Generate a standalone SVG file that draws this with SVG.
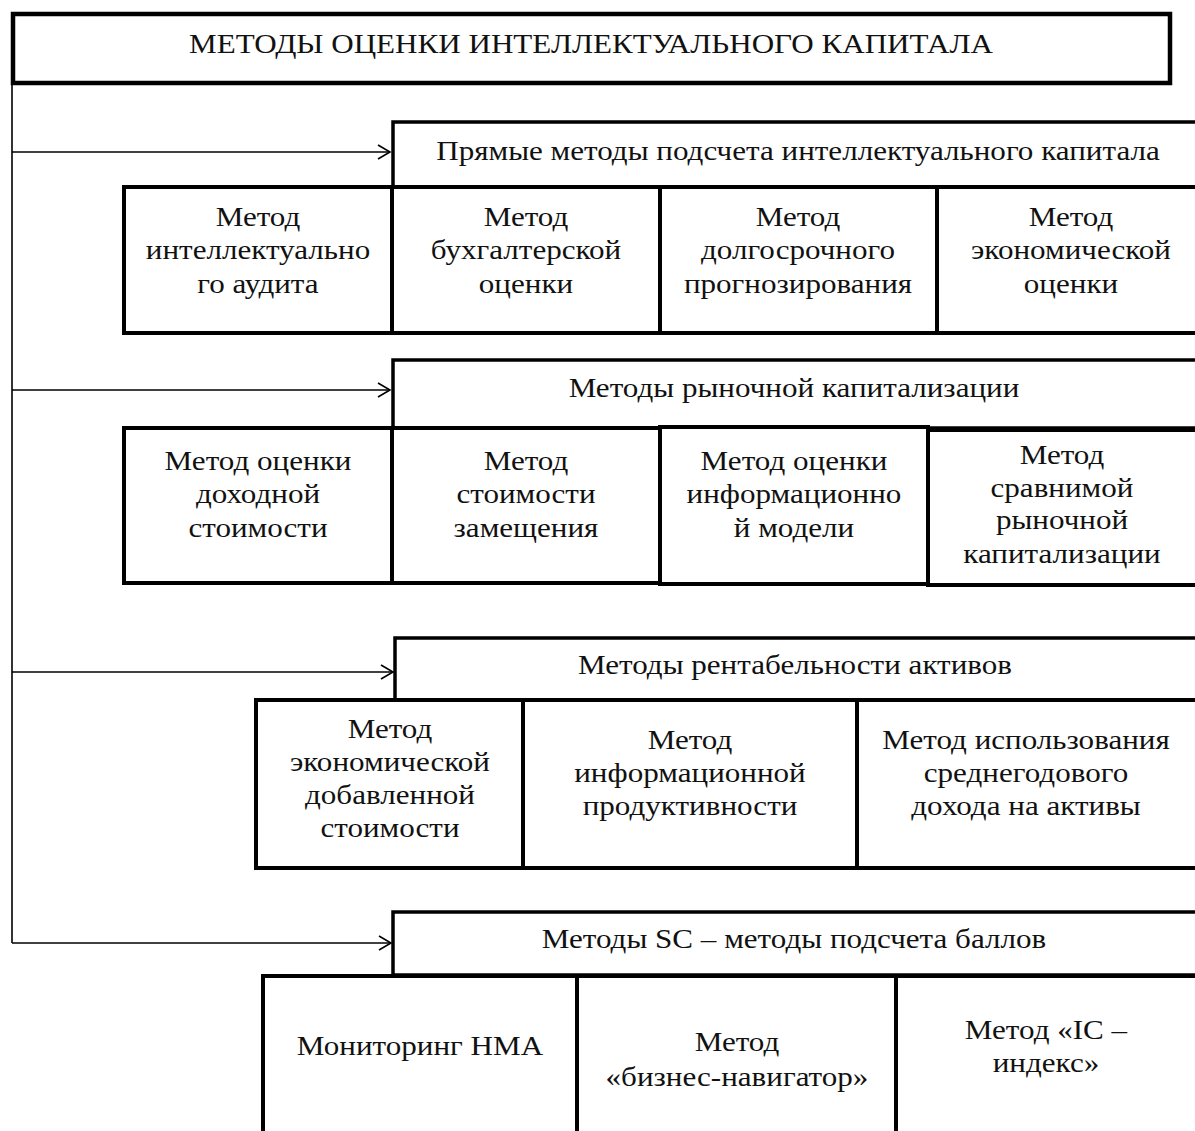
<svg xmlns="http://www.w3.org/2000/svg" width="1195" height="1131" viewBox="0 0 1195 1131">
<defs>
<marker id="arr" markerWidth="16" markerHeight="16" refX="14" refY="8" orient="auto" markerUnits="userSpaceOnUse">
<path d="M2,1 L14,8 L2,15" fill="none" stroke="#000" stroke-width="1.6"/>
</marker>
</defs>
<style>
rect{fill:#fff;stroke:#000;stroke-width:4}
.hdr{stroke-width:3.5}
text{font-family:"Liberation Serif","Times New Roman",serif;font-size:28px;fill:#111;text-anchor:middle}
.conn{fill:none;stroke:#000;stroke-width:1.6}
</style>
<rect width="1195" height="1131" style="fill:#fff;stroke:none"/>
<g id="title">
<rect x="13" y="14" width="1157" height="69" style="stroke-width:4.5"/>
<g transform="matrix(1.11 0 0 1 -65.01 0)"><text x="591" y="53">МЕТОДЫ ОЦЕНКИ ИНТЕЛЛЕКТУАЛЬНОГО КАПИТАЛА</text></g>
</g>
<g id="connectors">
<path class="conn" d="M12,84 V943"/>
<path class="conn" d="M12,152 H390" marker-end="url(#arr)"/>
<path class="conn" d="M12,390 H390" marker-end="url(#arr)"/>
<path class="conn" d="M12,672 H393" marker-end="url(#arr)"/>
<path class="conn" d="M12,943 H391" marker-end="url(#arr)"/>
</g>
<g id="sec1">
<rect class="hdr" x="393" y="122" width="810" height="65"/>
<g transform="matrix(1.11 0 0 1 -87.78 0)"><text x="798" y="160">Прямые методы подсчета интеллектуального капитала</text></g>
</g>
<g id="n1a"><rect x="124" y="187" width="268" height="146"/><g transform="matrix(1.11 0 0 1 -28.38 0)"><text x="258" y="226">Метод</text><text x="258" y="259">интеллектуально</text><text x="258" y="293">го аудита</text></g></g>
<g id="n1b"><rect x="392" y="187" width="268" height="146"/><g transform="matrix(1.11 0 0 1 -57.86 0)"><text x="526" y="226">Метод</text><text x="526" y="259">бухгалтерской</text><text x="526" y="293">оценки</text></g></g>
<g id="n1c"><rect x="660" y="187" width="277" height="146"/><g transform="matrix(1.11 0 0 1 -87.78 0)"><text x="798" y="226">Метод</text><text x="798" y="259">долгосрочного</text><text x="798" y="293">прогнозирования</text></g></g>
<g id="n1d"><rect x="937" y="187" width="266" height="146"/><g transform="matrix(1.11 0 0 1 -117.81 0)"><text x="1071" y="226">Метод</text><text x="1071" y="259">экономической</text><text x="1071" y="293">оценки</text></g></g>
<g id="sec2">
<rect class="hdr" x="393" y="360" width="810" height="68"/>
<g transform="matrix(1.11 0 0 1 -87.34 0)"><text x="794" y="397">Методы рыночной капитализации</text></g>
</g>
<g id="n2a"><rect x="124" y="428" width="268" height="155"/><g transform="matrix(1.11 0 0 1 -28.38 0)"><text x="258" y="470">Метод оценки</text><text x="258" y="503">доходной</text><text x="258" y="537">стоимости</text></g></g>
<g id="n2b"><rect x="392" y="428" width="268" height="155"/><g transform="matrix(1.11 0 0 1 -57.86 0)"><text x="526" y="470">Метод</text><text x="526" y="503">стоимости</text><text x="526" y="537">замещения</text></g></g>
<g id="n2d"><rect x="928" y="430" width="275" height="155"/><g transform="matrix(1.11 0 0 1 -116.82 0)"><text x="1062" y="464">Метод</text><text x="1062" y="497">сравнимой</text><text x="1062" y="529">рыночной</text><text x="1062" y="563">капитализации</text></g></g>
<g id="n2c"><rect x="660" y="427" width="268" height="157"/><g transform="matrix(1.11 0 0 1 -87.34 0)"><text x="794" y="470">Метод оценки</text><text x="794" y="503">информационно</text><text x="794" y="537">й модели</text></g></g>
<g id="sec3">
<rect class="hdr" x="395" y="638" width="808" height="62"/>
<g transform="matrix(1.11 0 0 1 -87.45 0)"><text x="795" y="674">Методы рентабельности активов</text></g>
</g>
<g id="n3a"><rect x="256" y="700" width="267" height="168"/><g transform="matrix(1.11 0 0 1 -42.9 0)"><text x="390" y="738">Метод</text><text x="390" y="771">экономической</text><text x="390" y="804">добавленной</text><text x="390" y="837">стоимости</text></g></g>
<g id="n3b"><rect x="523" y="700" width="334" height="168"/><g transform="matrix(1.11 0 0 1 -75.9 0)"><text x="690" y="749">Метод</text><text x="690" y="782">информационной</text><text x="690" y="815">продуктивности</text></g></g>
<g id="n3c"><rect x="857" y="700" width="346" height="168"/><g transform="matrix(1.11 0 0 1 -112.86 0)"><text x="1026" y="749">Метод использования</text><text x="1026" y="782">среднегодового</text><text x="1026" y="815">дохода на активы</text></g></g>
<g id="sec4">
<rect class="hdr" x="393" y="912" width="810" height="63"/>
<g transform="matrix(1.11 0 0 1 -87.34 0)"><text x="794" y="948">Методы SC – методы подсчета баллов</text></g>
</g>
<g id="n4a"><rect x="263" y="976" width="314" height="170"/><g transform="matrix(1.11 0 0 1 -46.2 0)"><text x="420" y="1055">Мониторинг НМА</text></g></g>
<g id="n4b"><rect x="577" y="976" width="319" height="170"/><g transform="matrix(1.11 0 0 1 -81.07 0)"><text x="737" y="1051">Метод</text><text x="737" y="1086">«бизнес-навигатор»</text></g></g>
<g id="n4c"><rect x="896" y="976" width="307" height="170"/><g transform="matrix(1.11 0 0 1 -115.06 0)"><text x="1046" y="1039">Метод «IC –</text><text x="1046" y="1072">индекс»</text></g></g>
</svg>
